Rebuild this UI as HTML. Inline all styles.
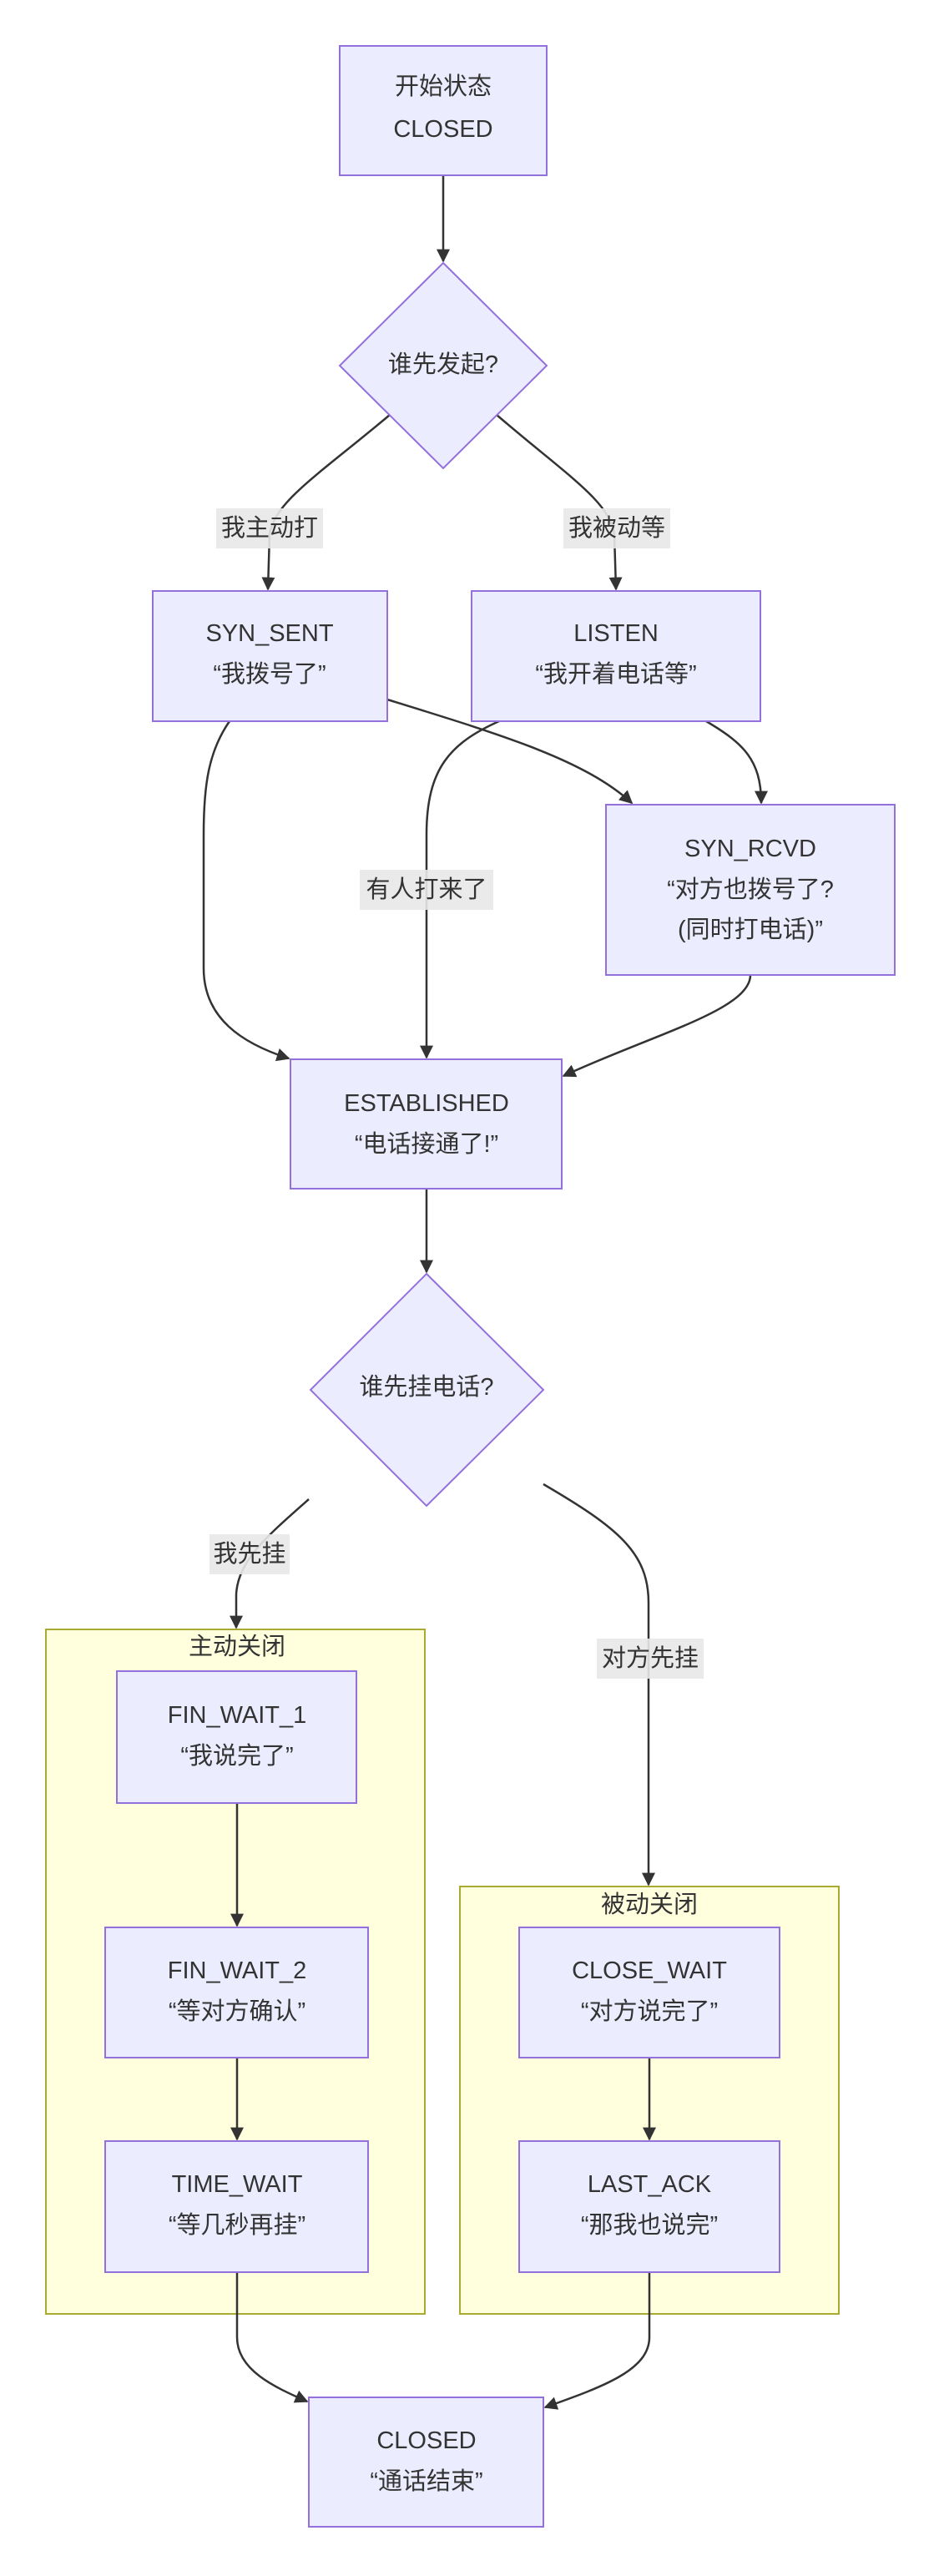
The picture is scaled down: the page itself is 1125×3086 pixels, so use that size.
<!DOCTYPE html>
<html><head><meta charset="utf-8"><style>
html,body{margin:0;padding:0;background:#fff;}
svg text{font-family:"Liberation Sans","Noto Sans CJK SC",sans-serif;font-size:29px;fill:#333;text-anchor:middle;dominant-baseline:central;}
.n{fill:#ECECFF;stroke:#9370DB;stroke-width:2;}
.c{fill:#FFFFDE;stroke:#AAAA33;stroke-width:2;}
.e{fill:none;stroke:#333;stroke-width:2.5;}
.lb{fill:#e8e8e8;opacity:0.9;}
</style></head><body>
<svg width="1125" height="3081" viewBox="0 0 1125 3081" xmlns="http://www.w3.org/2000/svg">
<defs><marker id="a" viewBox="0 0 10 10" refX="9" refY="5" markerWidth="7" markerHeight="7" markerUnits="userSpaceOnUse" orient="auto"><path d="M0,0L10,5L0,10z" fill="#333"/></marker>
<marker id="b" viewBox="0 0 10 10" refX="9" refY="5" markerWidth="16" markerHeight="16" markerUnits="userSpaceOnUse" orient="auto"><path d="M0,0L10,5L0,10z" fill="#333"/></marker></defs>

<rect class="c" x="55" y="1952" width="454" height="820"/>
<rect class="c" x="551" y="2260" width="454" height="512"/>
<text x="284" y="1973">主动关闭</text>
<text x="778" y="2282">被动关闭</text>

<!-- edges -->
<path class="e" marker-end="url(#b)" d="M531,210 L531,313"/>
<path class="e" marker-end="url(#b)" d="M467,497 C380,570 330,600 323,640 L321,706"/>
<path class="e" marker-end="url(#b)" d="M595,497 C680,570 730,600 736,640 L738,706"/>
<path class="e" marker-end="url(#b)" d="M464,838 C600,880 700,910 757,962"/>
<path class="e" marker-end="url(#b)" d="M846,864 C890,890 912,910 912,962"/>
<path class="e" marker-end="url(#b)" d="M598,864 C540,890 511,920 511,1000 L511,1267"/>
<path class="e" marker-end="url(#b)" d="M275,864 C250,900 244,940 244,1000 L244,1160 C244,1220 290,1250 346,1268"/>
<path class="e" marker-end="url(#b)" d="M899,1168 C899,1210 780,1240 675,1289"/>
<path class="e" marker-end="url(#b)" d="M511,1424 L511,1524"/>
<path class="e" marker-end="url(#b)" d="M370,1796 C320,1840 285,1870 283,1910 L283,1950"/>
<path class="e" marker-end="url(#b)" d="M651,1778 C740,1830 777,1860 777,1920 L777,2258"/>
<path class="e" marker-end="url(#b)" d="M284,2160 L284,2307"/>
<path class="e" marker-end="url(#b)" d="M284,2465 L284,2563"/>
<path class="e" marker-end="url(#b)" d="M778,2465 L778,2563"/>
<path class="e" marker-end="url(#b)" d="M284,2722 L284,2800 C284,2840 330,2860 368,2877"/>
<path class="e" marker-end="url(#b)" d="M778,2722 L778,2800 C778,2840 720,2860 653,2884"/>

<!-- edge labels -->
<rect class="lb" x="259" y="609" width="128" height="48"/><text x="323" y="633">我主动打</text>
<rect class="lb" x="675" y="609" width="128" height="48"/><text x="739" y="633">我被动等</text>
<rect class="lb" x="431" y="1042" width="160" height="48"/><text x="511" y="1066">有人打来了</text>
<rect class="lb" x="251" y="1838" width="96" height="48"/><text x="299" y="1862">我先挂</text>
<rect class="lb" x="715" y="1963" width="128" height="48"/><text x="779" y="1987">对方先挂</text>

<!-- nodes -->
<rect class="n" x="407" y="55" width="248" height="155"/>
<text x="531" y="104">开始状态</text><text x="531" y="155">CLOSED</text>
<polygon class="n" points="531,315 655,438 531,561 407,438"/>
<text x="531" y="437">谁先发起?</text>
<rect class="n" x="183" y="708" width="281" height="156"/>
<text x="323" y="759">SYN_SENT</text><text x="323" y="808">“我拨号了”</text>
<rect class="n" x="565" y="708" width="346" height="156"/>
<text x="738" y="759">LISTEN</text><text x="738" y="808">“我开着电话等”</text>
<rect class="n" x="726" y="964" width="346" height="204"/>
<text x="899" y="1017">SYN_RCVD</text><text x="899" y="1066">“对方也拨号了?</text><text x="899" y="1114">(同时打电话)”</text>
<rect class="n" x="348" y="1269" width="325" height="155"/>
<text x="511" y="1322">ESTABLISHED</text><text x="511" y="1371">“电话接通了!”</text>
<polygon class="n" points="511,1526 651,1665 511,1804 372,1665"/>
<text x="511" y="1662">谁先挂电话?</text>
<rect class="n" x="140" y="2002" width="287" height="158"/>
<text x="284" y="2055">FIN_WAIT_1</text><text x="284" y="2104">“我说完了”</text>
<rect class="n" x="126" y="2309" width="315" height="156"/>
<text x="284" y="2361">FIN_WAIT_2</text><text x="284" y="2410">“等对方确认”</text>
<rect class="n" x="126" y="2565" width="315" height="157"/>
<text x="284" y="2617">TIME_WAIT</text><text x="284" y="2666">“等几秒再挂”</text>
<rect class="n" x="622" y="2309" width="312" height="156"/>
<text x="778" y="2361">CLOSE_WAIT</text><text x="778" y="2410">“对方说完了”</text>
<rect class="n" x="622" y="2565" width="312" height="157"/>
<text x="778" y="2617">LAST_ACK</text><text x="778" y="2666">“那我也说完”</text>
<rect class="n" x="370" y="2872" width="281" height="155"/>
<text x="511" y="2924">CLOSED</text><text x="511" y="2973">“通话结束”</text>
</svg>
</body></html>
